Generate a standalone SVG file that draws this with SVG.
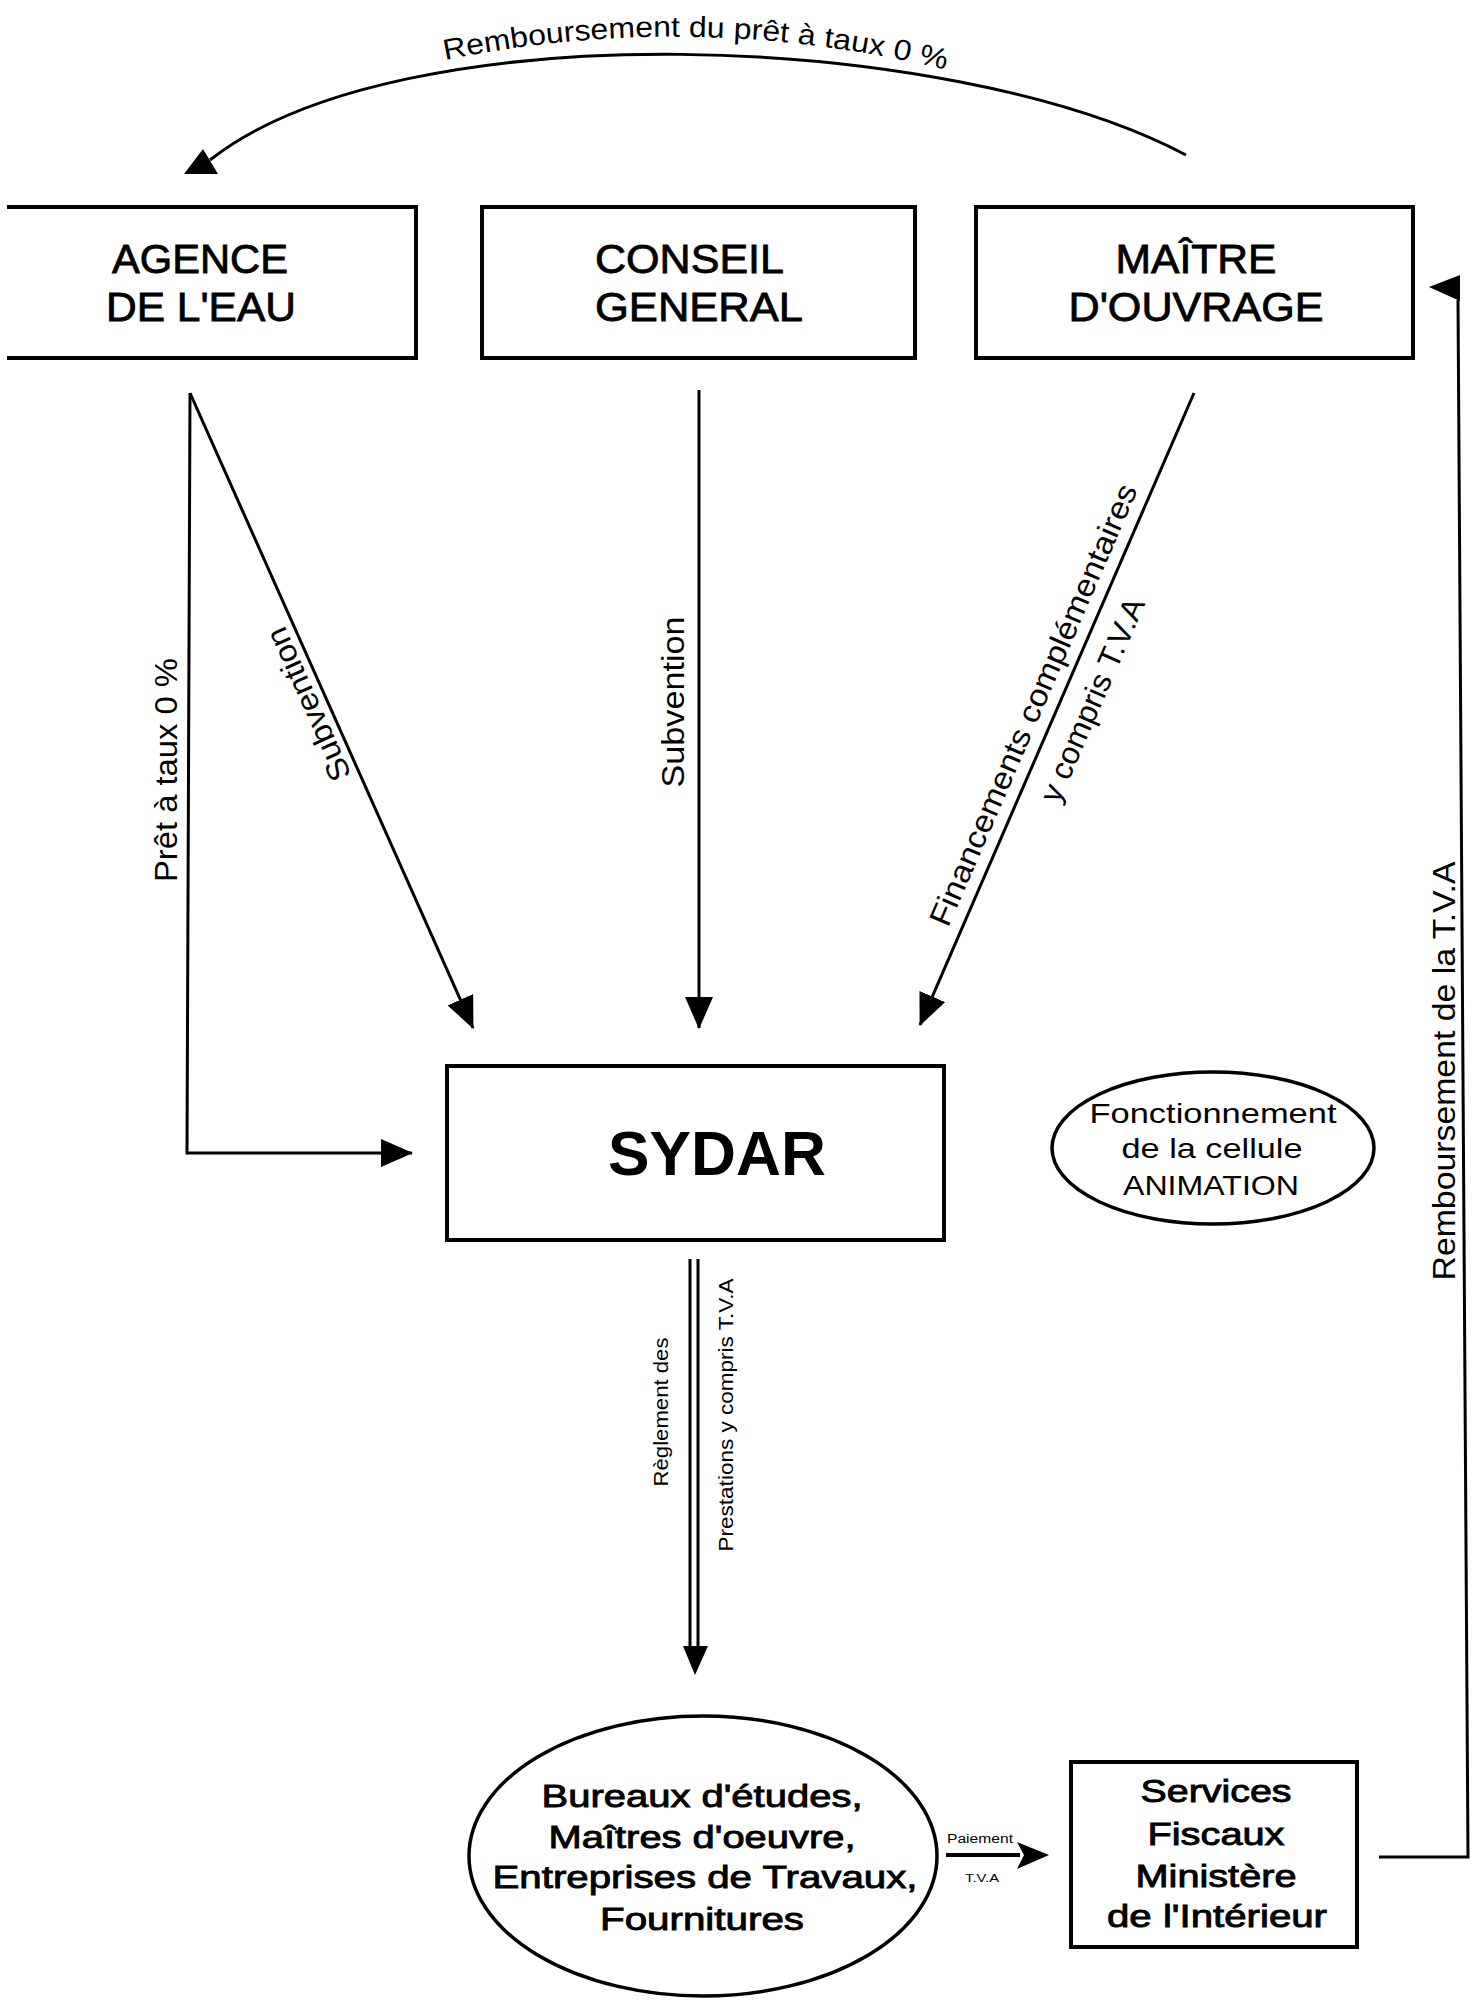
<svg xmlns="http://www.w3.org/2000/svg" width="1482" height="2008" viewBox="0 0 1482 2008">
<style>
  .box{fill:#fff;stroke:#000;stroke-width:4}
  .ell{fill:#fff;stroke:#000;stroke-width:3.5}
  .ln{fill:none;stroke:#000;stroke-width:3}
  .ah{fill:#000;stroke:none}
  text{font-family:"Liberation Sans",Arial,sans-serif;fill:#000}
  .big{font-size:40px;stroke:#000;stroke-width:0.8}
  .lab{font-size:31px}
  .mid{font-size:32px;stroke:#000;stroke-width:0.9}
  .sm{font-size:20px}
</style>
<defs>
  <marker id="arr" markerUnits="userSpaceOnUse" markerWidth="32" markerHeight="28" viewBox="0 0 32 28" refX="31" refY="14" orient="auto">
    <path d="M0,0 L32,14 L0,28 z" fill="#000"/>
  </marker>
  <path id="arcText" d="M445,60 Q700,8 955,72" fill="none"/>
</defs>

<g id="connectors">
  <path class="ln" d="M1186,155 C950,30 400,10 210,160"/>
  <polygon class="ah" points="203,149 184,174 218,174"/>
  <polyline class="ln" points="190,393 187,1153 412,1153" marker-end="url(#arr)"/>
  <line class="ln" x1="190" y1="393" x2="473" y2="1028" marker-end="url(#arr)"/>
  <line class="ln" x1="699" y1="390" x2="699" y2="1028" marker-end="url(#arr)"/>
  <line class="ln" x1="1194" y1="393" x2="920" y2="1025" marker-end="url(#arr)"/>
  <line class="ln" x1="690" y1="1259" x2="690" y2="1648"/>
  <line class="ln" x1="698" y1="1259" x2="698" y2="1648"/>
  <polygon class="ah" points="683,1646 708,1646 695,1675"/>
  <line x1="946" y1="1855" x2="1020" y2="1855" stroke="#000" stroke-width="4"/>
  <polygon class="ah" points="1017,1842 1049,1855 1017,1869 1024,1855"/>
  <polyline class="ln" points="1379,1857 1468,1857 1458,300"/>
  <polygon class="ah" points="1429,287 1460,275 1460,301"/>

  <text font-size="29"><textPath href="#arcText" textLength="505" lengthAdjust="spacingAndGlyphs">Remboursement du prêt à taux 0 %</textPath></text>
  <text class="lab" x="177" y="770" text-anchor="middle" textLength="224" lengthAdjust="spacingAndGlyphs" transform="rotate(-90 177 770)">Prêt à taux 0 %</text>
  <text class="lab" x="318" y="700" text-anchor="middle" textLength="165" lengthAdjust="spacingAndGlyphs" transform="rotate(-114.1 318 700)">Subvention</text>
  <text class="lab" x="684" y="702" text-anchor="middle" textLength="171" lengthAdjust="spacingAndGlyphs" transform="rotate(-90 684 702)">Subvention</text>
  <text class="lab" x="1043" y="709" text-anchor="middle" textLength="478" lengthAdjust="spacingAndGlyphs" transform="rotate(-66.6 1043 709)">Financements complémentaires</text>
  <text class="lab" x="1102" y="704" text-anchor="middle" textLength="219" lengthAdjust="spacingAndGlyphs" transform="rotate(-66.6 1102 704)">y compris T.V.A</text>
  <text class="lab" x="1455" y="1071" text-anchor="middle" textLength="419" lengthAdjust="spacingAndGlyphs" transform="rotate(-90 1455 1071)">Remboursement de la T.V.A</text>
  <text class="sm" x="668" y="1412" text-anchor="middle" textLength="149" lengthAdjust="spacingAndGlyphs" transform="rotate(-90 668 1412)">Règlement des</text>
  <text class="sm" x="733" y="1415" text-anchor="middle" textLength="273" lengthAdjust="spacingAndGlyphs" transform="rotate(-90 733 1415)">Prestations y compris T.V.A</text>
  <text x="980" y="1843" font-size="12" text-anchor="middle" textLength="66" lengthAdjust="spacingAndGlyphs">Paiement</text>
  <text x="982" y="1882" font-size="11" text-anchor="middle" textLength="34" lengthAdjust="spacingAndGlyphs">T.V.A</text>
</g>

<g id="agence">
  <path class="box" fill="none" d="M7,207 H416 V358 H7"/>
  <text class="big" x="200" y="273" text-anchor="middle" textLength="176" lengthAdjust="spacingAndGlyphs">AGENCE</text>
  <text class="big" x="201" y="321" text-anchor="middle" textLength="190" lengthAdjust="spacingAndGlyphs">DE L'EAU</text>
</g>
<g id="conseil">
  <rect class="box" x="482" y="207" width="433" height="151"/>
  <text class="big" x="595" y="273" textLength="189" lengthAdjust="spacingAndGlyphs">CONSEIL</text>
  <text class="big" x="595" y="321" textLength="208" lengthAdjust="spacingAndGlyphs">GENERAL</text>
</g>
<g id="maitre">
  <rect class="box" x="976" y="207" width="437" height="151"/>
  <text class="big" x="1196" y="273" text-anchor="middle" textLength="161" lengthAdjust="spacingAndGlyphs">MAÎTRE</text>
  <text class="big" x="1196" y="321" text-anchor="middle" textLength="255" lengthAdjust="spacingAndGlyphs">D'OUVRAGE</text>
</g>
<g id="sydar">
  <rect class="box" x="447" y="1066" width="497" height="174"/>
  <text x="717" y="1175" font-size="63" font-weight="bold" text-anchor="middle" textLength="218" lengthAdjust="spacingAndGlyphs">SYDAR</text>
</g>
<g id="animation">
  <ellipse class="ell" cx="1213" cy="1148" rx="161" ry="76"/>
  <text x="1213" y="1123" font-size="28" text-anchor="middle" textLength="247" lengthAdjust="spacingAndGlyphs">Fonctionnement</text>
  <text x="1212" y="1158" font-size="28" text-anchor="middle" textLength="181" lengthAdjust="spacingAndGlyphs">de la cellule</text>
  <text x="1211" y="1195" font-size="28" text-anchor="middle" textLength="176" lengthAdjust="spacingAndGlyphs">ANIMATION</text>
</g>
<g id="bureaux">
  <ellipse class="ell" cx="703" cy="1856" rx="234" ry="140"/>
  <text class="mid" x="702" y="1807" text-anchor="middle" textLength="321" lengthAdjust="spacingAndGlyphs">Bureaux d'études,</text>
  <text class="mid" x="702" y="1848" text-anchor="middle" textLength="307" lengthAdjust="spacingAndGlyphs">Maîtres d'oeuvre,</text>
  <text class="mid" x="705" y="1888" text-anchor="middle" textLength="425" lengthAdjust="spacingAndGlyphs">Entreprises de Travaux,</text>
  <text class="mid" x="702" y="1930" text-anchor="middle" textLength="204" lengthAdjust="spacingAndGlyphs">Fournitures</text>
</g>
<g id="services">
  <rect class="box" x="1071" y="1762" width="286" height="185"/>
  <text class="mid" x="1216" y="1802" text-anchor="middle" textLength="151" lengthAdjust="spacingAndGlyphs">Services</text>
  <text class="mid" x="1216" y="1845" text-anchor="middle" textLength="137" lengthAdjust="spacingAndGlyphs">Fiscaux</text>
  <text class="mid" x="1216" y="1887" text-anchor="middle" textLength="161" lengthAdjust="spacingAndGlyphs">Ministère</text>
  <text class="mid" x="1217" y="1927" text-anchor="middle" textLength="220" lengthAdjust="spacingAndGlyphs">de l'Intérieur</text>
</g>
</svg>
